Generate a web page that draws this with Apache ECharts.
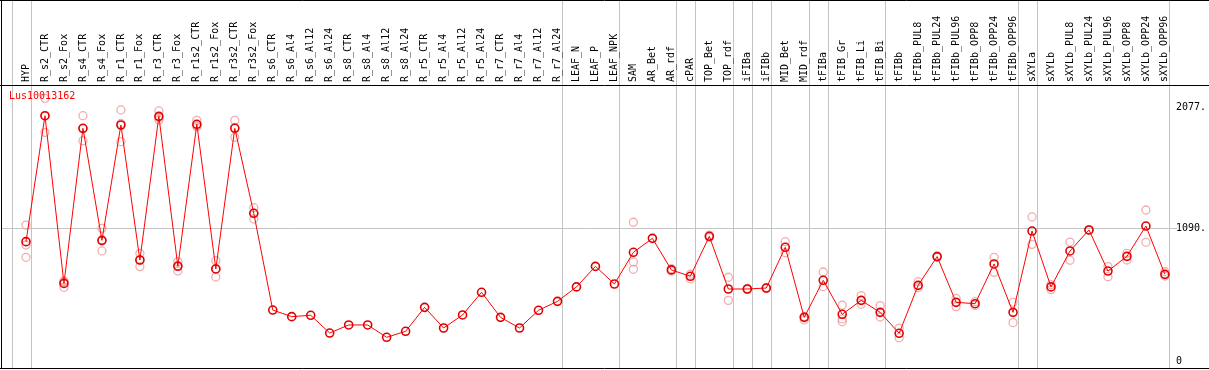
<!DOCTYPE html>
<html>
<head>
<meta charset="utf-8">
<script src="https://cdn.jsdelivr.net/npm/echarts@6/dist/echarts.min.js"></script>
<style>
html, body { margin: 0; padding: 0; background: #fff; }
#chart { width: 1209px; height: 370px; }
</style>
</head>
<body>
<div id="chart"></div>
<script>
var geneName = 'Lus10013162';

var categories = ['HYP', 'R_s2_CTR', 'R_s2_Fox', 'R_s4_CTR', 'R_s4_Fox', 'R_r1_CTR', 'R_r1_Fox',
    'R_r3_CTR', 'R_r3_Fox', 'R_r1s2_CTR', 'R_r1s2_Fox', 'R_r3s2_CTR', 'R_r3s2_Fox',
    'R_s6_CTR', 'R_s6_Al4', 'R_s6_Al12', 'R_s6_Al24', 'R_s8_CTR', 'R_s8_Al4', 'R_s8_Al12', 'R_s8_Al24',
    'R_r5_CTR', 'R_r5_Al4', 'R_r5_Al12', 'R_r5_Al24', 'R_r7_CTR', 'R_r7_Al4', 'R_r7_Al12', 'R_r7_Al24',
    'LEAF_N', 'LEAF_P', 'LEAF_NPK', 'SAM', 'AR_Bet', 'AR_rdf', 'cPAR', 'TOP_Bet', 'TOP_rdf',
    'iFIBa', 'iFIBb', 'MID_Bet', 'MID_rdf', 'tFIBa', 'tFIB_Gr', 'tFIB_Li', 'tFIB_Bi', 'tFIBb',
    'tFIBb_PUL8', 'tFIBb_PUL24', 'tFIBb_PUL96', 'tFIBb_OPP8', 'tFIBb_OPP24', 'tFIBb_OPP96',
    'sXYLa', 'sXYLb', 'sXYLb_PUL8', 'sXYLb_PUL24', 'sXYLb_PUL96', 'sXYLb_OPP8', 'sXYLb_OPP24', 'sXYLb_OPP96'];

// mean per sample
var means = [981, 2011, 640, 1908, 992, 1935, 831, 2006, 780, 1941, 758, 1908, 1213,
    422, 368, 379, 234, 300, 300, 199, 248, 444, 275, 382, 567, 362, 275, 420, 493,
    611, 779, 635, 894, 1008, 750, 698, 1025, 594, 594, 602, 935, 362, 665, 387, 501, 403, 232,
    624, 859, 485, 474, 799, 403, 1068, 611, 905, 1077, 741, 861, 1109, 714];

// replicates (null = not shown)
var rep1 = [1117, 2153, 654, 2011, 1090, 2058, 886, 2050, 818, 1973, 826, 1973, 1259,
    null, null, null, null, null, null, null, null, null, null, null, null, null, null, null, null,
    null, null, null, 1140, null, 760, 676, 1035, 690, 590, 598, 981, 370, 733, 461, 540, 458, 273,
    654, 865, 518, 490, 853, 485, 1183, 589, 978, 1080, 777, 886, 1240, 735];
var rep2 = [954, 1875, 608, 1807, 905, 1799, 777, 1976, 741, 1921, 692, 1834, 1166,
    null, null, null, null, null, null, null, null, null, null, null, null, null, null, null, null,
    null, null, null, 815, null, 740, 715, 1015, 501, 598, 606, 891, 341, 613, 349, 469, 365, 196,
    605, 853, 450, 460, 730, 319, 959, 630, 829, 1074, 695, 831, 976, 700];
var rep3 = [853, 2008, 660, 1905, 985, 1948, 830, 1995, 785, 1930, 758, 1915, 1215,
    null, null, null, null, null, null, null, null, null, null, null, null, null, null, null, null,
    null, null, null, 755, null, null, null, null, null, null, null, null, null, null, 327, null, null, null,
    null, null, null, null, null, null, null, null, null, null, null, null, null, null];

var yTickValues = [0, 1090, 2077];
var yTickLabels = ['0', '1090.', '2077.'];

// last sample of each group (a separator follows it)
var groupEnds = ['HYP', 'R_r7_Al24', 'LEAF_NPK', 'AR_rdf', 'cPAR', 'TOP_rdf', 'iFIBa', 'iFIBb',
    'MID_rdf', 'tFIBa', 'tFIB_Bi', 'tFIBb_OPP96', 'sXYLa', 'sXYLb_OPP96'];

var font = 'DejaVu Sans Mono';

function repSeries(arr) {
    return {
        type: 'scatter',
        data: arr.map(function (v) { return v == null ? '-' : v; }),
        symbol: 'circle',
        symbolSize: 8,
        itemStyle: { color: 'rgba(0,0,0,0)', borderColor: '#ee9a9a', borderWidth: 1.3 },
        z: 2,
        silent: true
    };
}

var option = {
    animation: false,
    title: {
        text: geneName,
        left: 9,
        top: 91,
        padding: 0,
        textStyle: { color: '#ff0000', fontFamily: font, fontSize: 10, fontWeight: 'normal' }
    },
    grid: { left: 26, right: 42.4, top: 86, bottom: 2, containLabel: false },
    xAxis: {
        type: 'category',
        position: 'top',
        data: categories,
        boundaryGap: false,
        axisLine: { show: false },
        axisTick: { show: false },
        splitLine: { show: false },
        axisLabel: {
            interval: 0,
            rotate: 90,
            margin: 4,
            color: '#000',
            fontFamily: font,
            fontSize: 10
        }
    },
    yAxis: {
        type: 'value',
        position: 'right',
        min: -52,
        max: 2254,
        axisLine: { show: false },
        axisTick: { show: false },
        splitLine: { show: false },
        axisLabel: {
            customValues: yTickValues,
            margin: 11,
            align: 'left',
            color: '#000',
            fontFamily: font,
            fontSize: 10,
            formatter: function (v) {
                var i = yTickValues.indexOf(v);
                return i >= 0 ? yTickLabels[i] : '';
            }
        }
    },
    series: [
        repSeries(rep1),
        repSeries(rep2),
        repSeries(rep3),
        {
            type: 'line',
            data: means,
            symbol: 'circle',
            symbolSize: 8,
            showAllSymbol: true,
            lineStyle: { color: '#ff0000', width: 1 },
            itemStyle: { color: 'rgba(0,0,0,0)', borderColor: '#e00000', borderWidth: 1.6 },
            z: 3,
            silent: true
        }
    ]
};

var chart = echarts.init(document.getElementById('chart'));
chart.setOption(option);

// grey separators, grid line and black frame
var x0 = chart.convertToPixel({ xAxisIndex: 0 }, 0);
var step = chart.convertToPixel({ xAxisIndex: 0 }, 1) - x0;
var y1090 = Math.round(chart.convertToPixel({ yAxisIndex: 0 }, 1090)) + 0.5;
var grey = '#c4c4c4';
var elems = [];

[-1].concat(groupEnds.map(function (n) { return categories.indexOf(n); })).forEach(function (i) {
    var x = Math.round(x0 + i * step + 4.5) + 0.5;
    elems.push({ type: 'line', z: 0, silent: true,
        shape: { x1: x, y1: 0, x2: x, y2: 368 },
        style: { stroke: grey, lineWidth: 1 } });
});
elems.push({ type: 'line', z: 0, silent: true,
    shape: { x1: 2, y1: y1090, x2: 1177, y2: y1090 },
    style: { stroke: grey, lineWidth: 1 } });

var black = [[0, 0.5, 1209, 0.5], [1.5, 0, 1.5, 369], [0, 85.5, 1209, 85.5], [0, 368.5, 1209, 368.5]];
black.forEach(function (s) {
    elems.push({ type: 'line', z: 10, silent: true,
        shape: { x1: s[0], y1: s[1], x2: s[2], y2: s[3] },
        style: { stroke: '#000', lineWidth: 1 } });
});

chart.setOption({ graphic: elems });
</script>
</body>
</html>
